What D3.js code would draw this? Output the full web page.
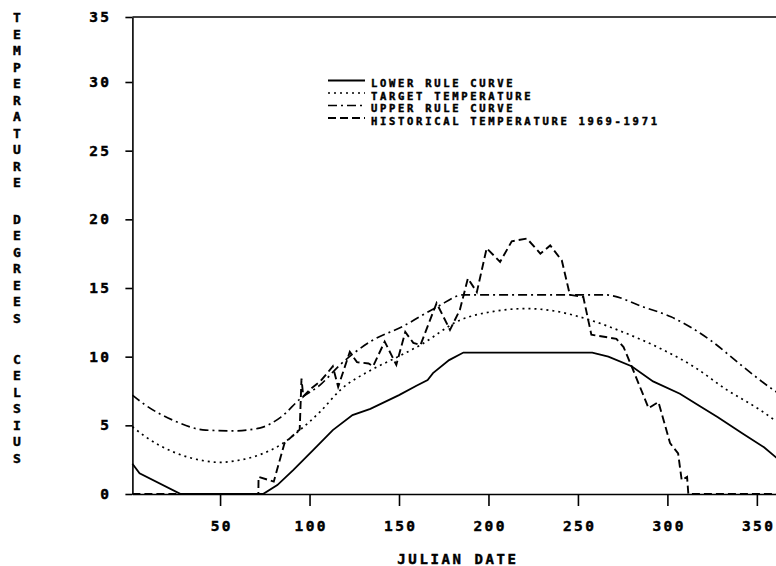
<!DOCTYPE html>
<html>
<head>
<meta charset="utf-8">
<script src="https://cdn.jsdelivr.net/npm/d3@7"></script>
<style>
  body { margin: 0; background: #fff; }
  text { font-family: "DejaVu Sans Mono", "Liberation Mono", monospace; font-weight: bold; fill: #000; stroke: #000; stroke-width: 0.45px; }
</style>
</head>
<body>
<div id="chart"></div>
<script>

// Julian date (day) / temperature (deg C) pairs
var lowerDays = [1, 5, 28, 74, 82, 91, 102, 113, 124, 134, 150, 160, 166, 169, 178, 186, 258, 267, 280, 292, 307, 318, 328, 342, 354, 365];
var lowerTemp = [2.2, 1.5, 0, 0, 0.65, 1.75, 3.2, 4.65, 5.75, 6.2, 7.2, 7.9, 8.3, 8.8, 9.75, 10.3, 10.3, 10.0, 9.3, 8.2, 7.3, 6.4, 5.6, 4.4, 3.4, 2.2];

var targetDays = [1, 8, 25, 42, 50, 58, 72, 84, 95, 106, 117, 134, 148, 162, 184, 203, 221, 238, 256, 275, 296, 315, 333, 352, 365];
var targetTemp = [4.9, 4.2, 3.0, 2.4, 2.3, 2.4, 2.85, 3.6, 4.7, 6.0, 7.55, 9.0, 9.9, 10.85, 12.65, 13.3, 13.5, 13.3, 12.7, 11.8, 10.6, 9.25, 7.6, 6.1, 4.9];

var upperDays = [1, 8, 25, 42, 58, 72, 84, 95, 106, 117, 134, 152, 171, 186, 265, 287, 302, 324, 342, 359, 365];
var upperTemp = [7.2, 6.5, 5.3, 4.65, 4.6, 4.8, 5.6, 6.95, 7.95, 9.4, 11.1, 12.2, 13.6, 14.5, 14.5, 13.6, 12.9, 11.2, 9.3, 7.6, 7.1];

var histDays = [1, 71.4, 71.5, 80, 86, 94.5, 95.5, 96.5, 101, 106, 110.5, 113, 116, 122.5, 126.5, 133, 135.5, 142, 148.5, 153.5, 158, 162, 171, 178.5, 184, 188.5, 193.5, 199, 206.5, 213, 221.5, 229, 234.5, 241, 245.5, 253, 257.5, 271.5, 275.5, 280, 289.5, 295, 301.5, 306, 308, 311, 311.7, 365];
var histTemp = [0, 0, 1.25, 0.9, 3.7, 4.7, 8.4, 7.1, 7.7, 8.2, 8.9, 9.3, 7.8, 10.35, 9.6, 9.5, 9.3, 11.1, 9.4, 11.8, 11.0, 10.85, 13.9, 11.95, 13.4, 15.7, 14.7, 17.9, 16.9, 18.4, 18.6, 17.5, 18.1, 17.0, 14.5, 14.35, 11.6, 11.3, 10.7, 9.3, 6.25, 6.7, 3.7, 2.95, 1.0, 1.25, 0, 0];

var xTicks = [50, 100, 150, 200, 250, 300, 350];
var yTicks = [0, 5, 10, 15, 20, 25, 30, 35];

var seriesNames = ["LOWER RULE CURVE", "TARGET TEMPERATURE", "UPPER RULE CURVE", "HISTORICAL TEMPERATURE 1969-1971"];
var yLabelWords = ["TEMPERATURE", "DEGREES", "CELSIUS"];
var xLabel = "JULIAN DATE";


/*
 * TempChart - draws the rule curves against julian date
 */

TempChart = function(_parentElement){
    this.parentElement = _parentElement;
    this.initVis();
}

TempChart.prototype.initVis = function(){
    var vis = this;

    vis.width = 776;
    vis.height = 566;

    vis.svg = d3.select("#" + vis.parentElement).append("svg")
        .attr("width", vis.width)
        .attr("height", vis.height);

    // the plot runs past the right edge of the picture
    vis.x = d3.scaleLinear().domain([1, 365]).range([132.4, 783.7]);
    // top of the frame sits a little tighter than the other intervals
    vis.y = d3.scaleLinear().domain([0, 30, 35]).range([494, 82, 17]);

    // axes
    var xAxis = d3.axisBottom(vis.x)
        .tickValues(xTicks)
        .tickSize(12)
        .tickSizeOuter(0)
        .tickPadding(15);

    var yAxis = d3.axisLeft(vis.y)
        .tickValues(yTicks)
        .tickSize(7)
        .tickSizeOuter(0)
        .tickPadding(14);

    var gx = vis.svg.append("g")
        .attr("transform", "translate(0," + vis.y(0) + ")")
        .call(xAxis);

    var gy = vis.svg.append("g")
        .attr("transform", "translate(" + vis.x(1) + ",0)")
        .call(yAxis);

    [gx, gy].forEach(function(g){
        g.selectAll("path, line").attr("stroke", "#000").attr("stroke-width", 1.6);
        g.selectAll("text")
            .style("font-family", "'DejaVu Sans Mono', monospace")
            .style("font-weight", "bold")
            .style("font-size", "14.5px")
            .style("letter-spacing", "2.4px")
            .attr("fill", "#000");
    });
    gx.selectAll("text").attr("dx", 1.2);

    // top of frame
    vis.svg.append("line")
        .attr("x1", vis.x(1)).attr("x2", vis.x(365))
        .attr("y1", vis.y(35)).attr("y2", vis.y(35))
        .attr("stroke", "#000")
        .attr("stroke-width", 1.6);

    // axis titles
    vis.svg.append("text")
        .attr("x", 458)
        .attr("y", 564)
        .attr("text-anchor", "middle")
        .style("font-size", "14px")
        .style("letter-spacing", "2.6px")
        .text(xLabel);

    var wordTop = [17.3, 219, 359];
    yLabelWords.forEach(function(w, wi){
        w.split("").forEach(function(ch, ci){
            vis.svg.append("text")
                .attr("x", 17)
                .attr("y", wordTop[wi] + ci * 16.5 + 4.8)
                .attr("text-anchor", "middle")
                .style("font-size", "13px")
                .text(ch);
        });
    });

    vis.styles = [
        { dash: null, width: 1.8 },
        { dash: "2,4", width: 1.7 },
        { dash: "9,4,2,4", width: 1.7 },
        { dash: "8,4", width: 1.9 }
    ];

    vis.wrangleData();
}

TempChart.prototype.wrangleData = function(){
    var vis = this;

    function pairs(days, temps){
        return days.map(function(d, i){ return { day: d, temp: temps[i] }; });
    }

    vis.series = [
        { name: seriesNames[0], values: pairs(lowerDays, lowerTemp), curve: d3.curveLinear },
        { name: seriesNames[1], values: pairs(targetDays, targetTemp), curve: d3.curveMonotoneX },
        { name: seriesNames[2], values: pairs(upperDays, upperTemp), curve: d3.curveMonotoneX },
        { name: seriesNames[3], values: pairs(histDays, histTemp), curve: d3.curveLinear }
    ];

    vis.updateVis();
}

TempChart.prototype.updateVis = function(){
    var vis = this;

    vis.series.forEach(function(s, i){
        var line = d3.line()
            .x(function(d) { return vis.x(d.day); })
            .y(function(d) { return vis.y(d.temp); })
            .curve(s.curve);

        vis.svg.append("path")
            .datum(s.values)
            .attr("d", line)
            .attr("fill", "none")
            .attr("stroke", "#000")
            .attr("stroke-width", vis.styles[i].width)
            .attr("stroke-dasharray", vis.styles[i].dash);
    });

    // legend
    var legend = vis.svg.append("g").attr("transform", "translate(328,83)");

    var row = legend.selectAll(".row")
        .data(vis.series)
        .enter().append("g")
        .attr("class", "row")
        .attr("transform", function(d, i) { return "translate(0," + (i * 12.5) + ")"; });

    row.append("line")
        .attr("x1", 0).attr("x2", 37)
        .attr("y1", -2.5).attr("y2", -2.5)
        .attr("stroke", "#000")
        .attr("stroke-width", function(d, i) { return vis.styles[i].width; })
        .attr("stroke-dasharray", function(d, i) { return vis.styles[i].dash; });

    row.append("text")
        .attr("x", 43)
        .attr("y", 4)
        .style("font-size", "10.5px")
        .style("letter-spacing", "2.7px")
        .text(function(d) { return d.name; });
}

new TempChart("chart");
</script>
</body>
</html>
